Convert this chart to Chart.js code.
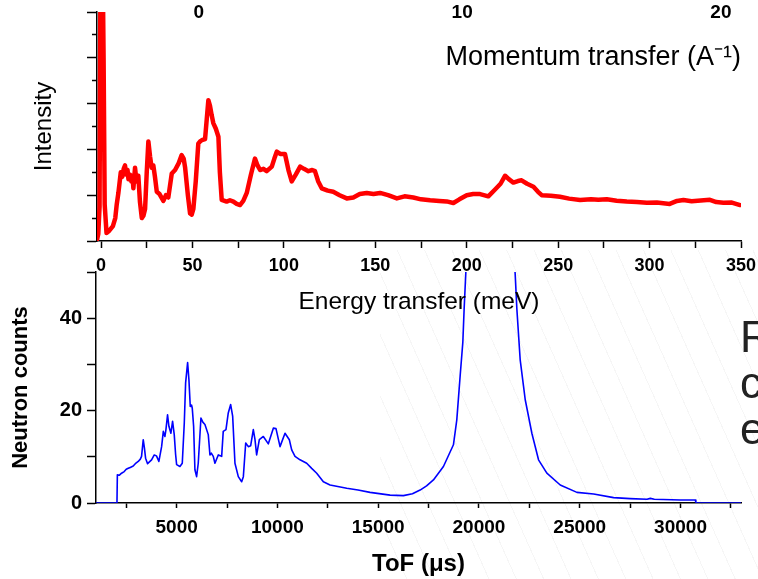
<!DOCTYPE html>
<html>
<head>
<meta charset="utf-8">
<script src="https://cdn.jsdelivr.net/npm/chart.js@4.4.1/dist/chart.umd.min.js"></script>
<style>
  html, body { margin: 0; padding: 0; background: #fff; }
  #wrap { position: relative; width: 758px; height: 579px; overflow: hidden; }
  #wrap canvas { position: absolute; left: 0; top: 0; }
  #lines { position: absolute; left: 380px; top: 250px; width: 378px; height: 329px;
    background: repeating-linear-gradient(66deg, transparent 0 24px, rgba(0,0,0,0.035) 24px 25px); }
  #side { position: absolute; left: 740px; top: 314px; font: 44px/46px 'Liberation Sans', Arial, sans-serif;
    color: #222; white-space: pre; }
</style>
</head>
<body>
<div id="wrap">
  <div id="lines"></div>
  <canvas id="tofChart" width="758" height="579"></canvas>
  <canvas id="energyChart" width="758" height="579"></canvas>
  <div id="side">R
c
e</div>
</div>
<script>
// top panel: intensity vs energy transfer (meV)
var energy = [-2.2, -1.5, -0.8, -0.3, 0.3, 0.9, 1.4, 2.0, 3.0, 4.5, 6.5, 7.8, 8.6, 9.5, 10.8, 11.6, 12.4, 13.1, 13.8, 14.5,
  15.0, 15.8, 16.6, 17.2, 17.7, 18.6, 19.4, 20.4, 21.3, 22.3, 23.2, 24.1, 25.0, 25.9, 26.8, 27.7, 28.6, 29.5, 30.5, 32.0,
  34.1, 35.5, 36.8, 38.7, 40.5, 42.5, 44.1, 45.2, 46.0, 47.5, 48.7, 49.6, 50.5, 51.8, 53.2, 54.2, 55.1, 56.9, 57.8, 58.7,
  59.6, 60.5, 61.4, 62.8, 64.2, 65.0, 66.0, 68.7, 70.5, 72.4, 74.2, 76.0, 77.8, 79.7, 82.0, 84.2, 85.6, 87.0, 88.8, 90.6,
  93.4, 94.8, 96.1, 98.0, 100.6, 102.5, 104.3, 106.5, 108.9, 111.0, 113.4, 115.5, 117.0, 118.8, 120.7, 124.0, 127.0, 130.5, 134.4, 138.0,
  141.5, 145.3, 149.0, 152.6, 157.0, 161.8, 166.0, 170.8, 175.0, 180.0, 185.0, 189.0, 192.7, 196.0, 200.0, 203.5, 207.3, 211.8, 215.5, 218.5,
  221.0, 223.0, 225.5, 228.0, 230.0, 233.0, 236.5, 239.0, 241.0, 246.0, 251.0, 256.0, 262.0, 268.0, 272.0, 276.6, 282.0, 287.5, 293.0, 298.5,
  304.0, 311.0, 315.0, 318.5, 323.0, 328.0, 333.0, 336.5, 340.4, 345.0, 349.5];
var intensity = [0.05, 0.3, 1.5, 12, 12, 12, 8, 1.6, 0.35, 0.45, 0.65, 1.0, 1.6, 2.1, 3.0, 2.8, 3.15, 3.3, 2.9, 3.1,
  2.7, 2.9, 2.6, 2.85, 2.3, 3.2, 2.6, 2.85, 1.7, 1.0, 1.1, 1.4, 3.0, 4.35, 3.7, 3.2, 3.3, 2.8, 2.15, 2.05,
  1.75, 2.0, 1.9, 2.95, 3.1, 3.4, 3.75, 3.6, 3.2, 2.0, 1.2, 1.15, 1.4, 2.6, 4.25, 4.35, 4.4, 4.45, 5.3, 6.15,
  5.9, 5.5, 5.15, 4.9, 4.55, 3.0, 1.8, 1.72, 1.78, 1.72, 1.62, 1.57, 1.75, 2.1, 2.9, 3.6, 3.3, 3.1, 3.15, 3.05,
  3.25, 3.6, 3.9, 3.8, 3.8, 3.1, 2.6, 2.9, 3.25, 3.15, 3.05, 3.1, 3.05, 2.6, 2.3, 2.2, 2.15, 2.0, 1.86, 1.9,
  2.05, 2.1, 2.05, 2.1, 2.0, 1.86, 1.95, 1.9, 1.82, 1.78, 1.75, 1.73, 1.66, 1.82, 2.0, 2.05, 2.05, 1.95, 2.25, 2.5,
  2.85, 2.7, 2.55, 2.62, 2.65, 2.5, 2.37, 2.15, 2.0, 1.98, 1.93, 1.85, 1.79, 1.82, 1.8, 1.82, 1.76, 1.72, 1.7, 1.67,
  1.68, 1.62, 1.75, 1.79, 1.74, 1.77, 1.8, 1.7, 1.67, 1.68, 1.57];

// top axis: momentum transfer labels and where they sit on the energy scale
var momentumLabels = ['0', '10', '20'];
var momentumAt = [53.5, 197.5, 339];

// bottom panel: neutron counts vs time of flight (us)
var tof = [1000, 2040, 2060, 2150, 2268, 2400, 2500, 2600, 2700, 2846, 2950, 3095, 3200, 3260, 3343, 3400, 3460, 3558, 3650, 3757,
  3890, 4000, 4120, 4255, 4340, 4420, 4470, 4550, 4617, 4716, 4800, 4882, 4950, 5000, 5164, 5280, 5380, 5446, 5545, 5610,
  5677, 5742, 5776, 5843, 5908, 5991, 6073, 6206, 6300, 6405, 6570, 6653, 6720, 6818, 6901, 7066, 7234, 7313, 7448, 7562,
  7681, 7780, 7894, 8060, 8227, 8310, 8427, 8557, 8674, 8805, 8888, 8970, 9103, 9302, 9550, 9798, 9930, 10130, 10377, 10592,
  10709, 10874, 11122, 11453, 11701, 11950, 12280, 12611, 13440, 14000, 14597, 15590, 16250, 16700, 17080, 17400, 17740, 18237, 18733, 18900,
  19066, 19198, 19264, 19348, 19500, 20000, 20500, 21000, 21600, 21796, 21880, 22045, 22210, 22293, 22624, 22955, 23368, 24031, 24860, 25690,
  26680, 27500, 28340, 28500, 28700, 30000, 30730, 30760, 30800, 33000];
var counts = [0, 0, 6.1, 6.0, 6.45, 6.8, 7.3, 7.5, 7.7, 8.0, 8.5, 9.0, 9.5, 10.1, 13.7, 12.0, 9.7, 8.5, 8.9, 9.35,
  10.4, 10.2, 9.0, 12.2, 15.5, 14.4, 15.9, 19.1, 16.6, 15.1, 17.7, 14.8, 10.5, 8.3, 7.9, 8.6, 17.3, 26.0, 30.4, 26.7,
  20.9, 21.2, 20.5, 16.6, 7.2, 5.7, 8.6, 18.4, 17.5, 17.0, 14.8, 10.4, 10.8, 10.1, 8.6, 10.4, 10.1, 15.5, 15.9, 19.5,
  21.3, 18.8, 8.6, 5.7, 4.6, 5.7, 13.0, 12.2, 12.4, 15.9, 13.7, 10.4, 13.7, 14.4, 12.8, 16.2, 16.1, 12.2, 15.1, 13.7,
  11.5, 10.1, 9.35, 8.6, 7.5, 6.45, 4.6, 3.9, 3.2, 2.8, 2.3, 1.7, 1.6, 2.0, 2.8, 3.7, 5.0, 7.9, 12.6, 18,
  27.5, 34.7, 42, 49.9, 60, 120, 150, 120, 62, 49.6, 42, 31, 25.3, 22.4, 15.1, 9.35, 6.45, 3.9, 2.3, 1.96,
  1.16, 0.95, 0.8, 1.0, 0.8, 0.65, 0.65, 0.2, 0, 0];

// ToF axis ticks (only multiples of 5000 get a label)
var tofTicks = [2500, 5000, 7500, 10000, 12500, 15000, 17500, 20000, 22500, 25000, 27500, 30000, 32500];

var FONT = "'Liberation Sans', Arial, sans-serif";
Chart.defaults.font.family = FONT;
Chart.defaults.color = '#000';

var energyPoints = energy.map(function(e, i) { return {x: e, y: intensity[i]}; });
var tofPoints = tof.map(function(t, i) { return {x: t, y: counts[i]}; });

// keep the plot area where the layout padding puts it
function noLabelPadding(s) {
  s.paddingLeft = 0;
  s.paddingRight = 0;
}

function isMinor(c) {
  return c.tick && c.tick.value % 2 !== 0;
}

new Chart(document.getElementById('tofChart'), {
  type: 'line',
  data: {
    datasets: [{
      data: tofPoints,
      borderColor: '#0000ff',
      borderWidth: 1.6,
      borderJoinStyle: 'round',
      pointRadius: 0,
      fill: false,
      tension: 0
    }]
  },
  options: {
    responsive: false,
    animation: false,
    devicePixelRatio: 1,
    layout: { autoPadding: false, padding: { top: 272, right: 17, left: 0, bottom: 0 } },
    plugins: { legend: { display: false }, tooltip: { enabled: false } },
    scales: {
      x: {
        type: 'linear', min: 1000, max: 33000,
        border: { color: '#000', width: 1.5 },
        grid: { drawOnChartArea: false, color: '#000', tickLength: 5, tickWidth: 1.5 },
        afterBuildTicks: function(axis) {
          axis.ticks = tofTicks.map(function(v) { return {value: v}; });
        },
        ticks: {
          autoSkip: false, maxRotation: 0, padding: 8,
          font: { size: 19, weight: 'bold' },
          callback: function(v) { return v % 5000 === 0 ? String(v) : ''; }
        },
        title: { display: true, text: 'ToF (μs)', font: { size: 24, weight: 'bold' }, padding: { top: 0, bottom: 0 } },
        afterFit: function(s) { s.height = 76; noLabelPadding(s); }
      },
      y: {
        min: 0, max: 50,
        border: { color: '#000', width: 1.5 },
        grid: { drawOnChartArea: false, color: '#000', tickLength: 9, tickWidth: 1.5 },
        ticks: {
          stepSize: 10, autoSkip: false, padding: 5,
          font: { size: 20, weight: 'bold' },
          callback: function(v) { return v % 20 === 0 ? String(v) : ''; }
        },
        title: { display: true, text: 'Neutron counts', font: { size: 22, weight: 'bold' }, padding: { top: 8, bottom: 0 } },
        afterFit: function(s) { s.width = 96; }
      }
    }
  }
});

new Chart(document.getElementById('energyChart'), {
  type: 'line',
  data: {
    datasets: [{
      data: energyPoints,
      borderColor: '#ff0000',
      borderWidth: 4.5,
      borderJoinStyle: 'round',
      borderCapStyle: 'round',
      pointRadius: 0,
      fill: false,
      tension: 0,
      xAxisID: 'x',
      yAxisID: 'y'
    }]
  },
  options: {
    responsive: false,
    animation: false,
    devicePixelRatio: 1,
    layout: { autoPadding: false, padding: { top: 12, right: 17, left: 0, bottom: 258 } },
    plugins: { legend: { display: false }, tooltip: { enabled: false } },
    scales: {
      x: {
        type: 'linear', min: -2.2, max: 350,
        border: { color: '#000', width: 1.5 },
        grid: { drawOnChartArea: false, color: '#000', tickLength: 7, tickWidth: 1.5 },
        ticks: {
          stepSize: 25, includeBounds: false, autoSkip: false, maxRotation: 0, padding: 7,
          font: { size: 18, weight: 'bold' },
          callback: function(v) { return v % 50 === 0 ? String(v) : ''; }
        },
        title: { display: true, text: 'Energy transfer (meV)', font: { size: 24.5 }, padding: { top: 0, bottom: 4 } },
        afterFit: function(s) { s.height = 80; noLabelPadding(s); }
      },
      x2: {
        type: 'linear', position: 'top', min: -2.2, max: 350,
        border: { display: false },
        grid: { display: false },
        afterBuildTicks: function(axis) {
          axis.ticks = momentumAt.map(function(v) { return {value: v}; });
        },
        ticks: {
          autoSkip: false, maxRotation: 0, mirror: true, padding: -11,
          font: { size: 19, weight: 'bold' },
          callback: function(v, i) { return momentumLabels[i]; }
        },
        title: { display: true, text: 'Momentum transfer (A⁻¹)', align: 'end', font: { size: 27 }, padding: { top: 29, bottom: 0 } },
        afterFit: function(s) { s.height = 0; noLabelPadding(s); }
      },
      y: {
        min: 0, max: 10,
        border: { color: '#000', width: 1.5 },
        grid: {
          drawOnChartArea: false, color: '#000', tickLength: 10, tickWidth: 1.5,
          // odd ticks are the short ones, kept next to the axis line
          tickBorderDash: function(c) { return isMinor(c) ? [5, 5] : []; },
          tickBorderDashOffset: function(c) { return isMinor(c) ? 5 : 0; }
        },
        ticks: { display: false, stepSize: 1 },
        title: { display: true, text: 'Intensity', font: { size: 24 }, padding: { top: 30, bottom: 0 } },
        afterFit: function(s) { s.width = 97; }
      }
    }
  }
});
</script>
</body>
</html>
